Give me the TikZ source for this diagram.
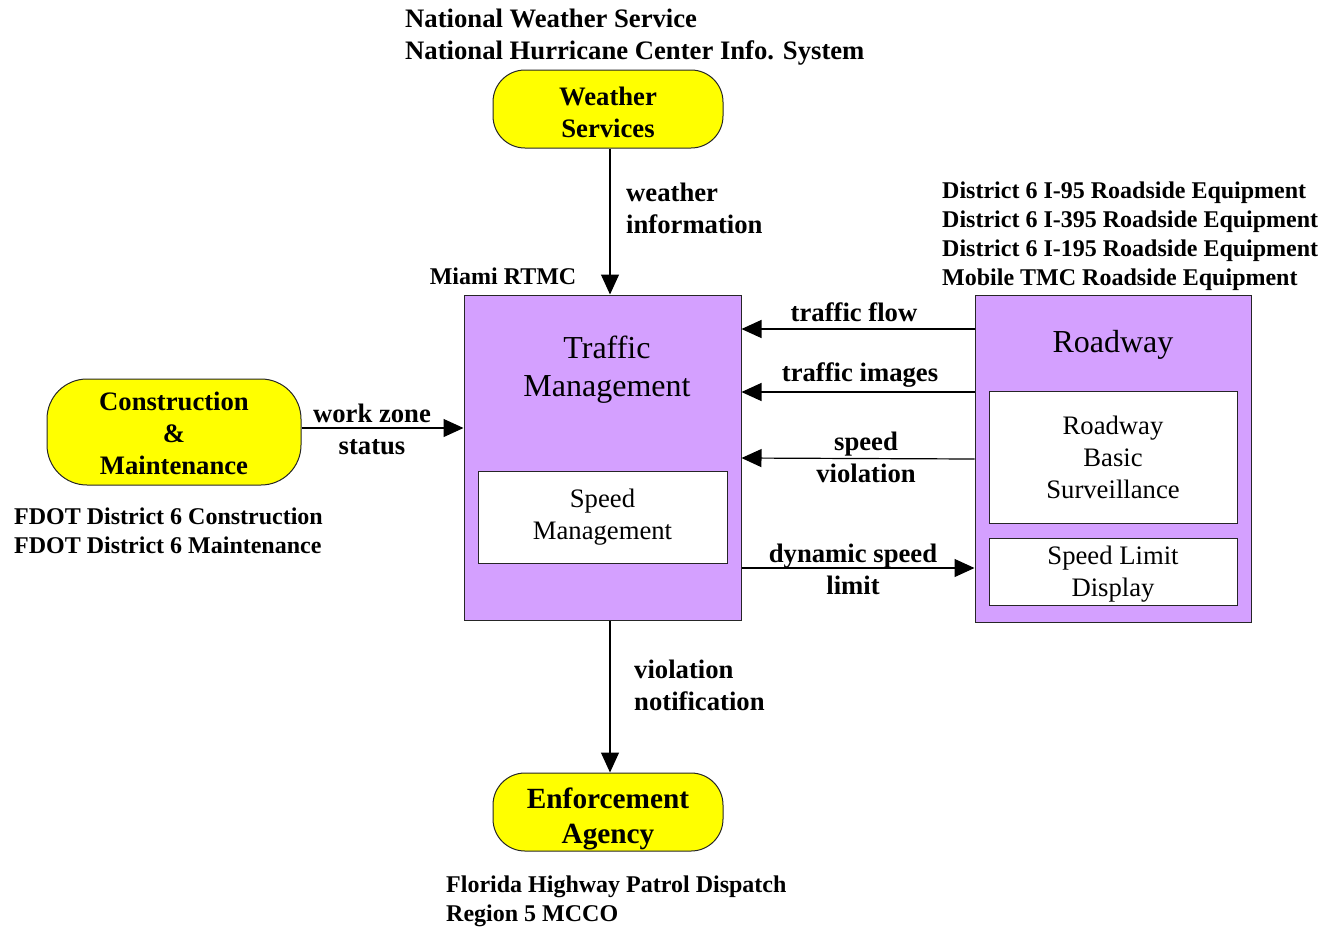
\documentclass[tikz,border=0pt]{standalone}
\usepackage{fontspec}
\setmainfont{Liberation Serif}
\usetikzlibrary{arrows.meta}
\definecolor{ylw}{RGB}{255,255,0}
\definecolor{prp}{RGB}{212,160,255}
\begin{document}
\begin{tikzpicture}[x=1pt,y=-1pt,
  ybox/.style={draw=black!85, fill=ylw, rounded corners=32pt, line width=1pt, inner sep=0pt},
  pbox/.style={draw=black!85, fill=prp, line width=1pt, inner sep=0pt},
  wbox/.style={draw=black!85, fill=white, line width=1pt, inner sep=0pt, align=center,
    font=\fontsize{26.67}{32}\selectfont},
  ytxt/.style={inner sep=0pt, align=center, font=\fontsize{26.67}{32}\selectfont\bfseries},
  title/.style={inner sep=0pt, align=center, font=\fontsize{32}{38}\selectfont},
  lbl/.style={inner sep=0pt, align=center, font=\fontsize{26.67}{32}\selectfont\bfseries},
  ext/.style={inner sep=0pt, align=left, font=\fontsize{24}{29}\selectfont\bfseries},
  arr/.style={line width=1.2pt, -{Triangle[length=20pt,width=18pt]}}
]
\useasboundingbox (0,0) rectangle (1324,927);

% external names
\node[ext, anchor=west, font=\fontsize{26.67}{32}\selectfont\bfseries] (nws) at (405,37) {National Weather Service\\National Hurricane Center Info. System};
\node[ext, anchor=west] (rse) at (942,236.5) {District 6 I-95 Roadside Equipment\\District 6 I-395 Roadside Equipment\\District 6 I-195 Roadside Equipment\\Mobile TMC Roadside Equipment};
\node[ext, anchor=west] (fdot) at (14,530.5) {FDOT District 6 Construction\\FDOT District 6 Maintenance};
\node[ext, anchor=west] (fhp) at (446,901.5) {Florida Highway Patrol Dispatch\\Region 5 MCCO};
\node[ext] (rtmc) at (503,276) {Miami RTMC};

% terminators
\node[ybox, minimum width=230pt, minimum height=78pt,
  label={[ytxt, yshift=-3pt]center:{Weather\\Services}}] (ws) at (608,109) {};
\node[ybox, minimum width=254pt, minimum height=106pt, rounded corners=40pt,
  label={[ytxt, yshift=-1pt]center:{Construction\\\&\\Maintenance}}] (cm) at (174,432) {};
\node[ybox, minimum width=230pt, minimum height=78pt,
  label={[ytxt, yshift=-7pt, font=\fontsize{29.3}{35}\selectfont\bfseries]center:{Enforcement\\Agency}}] (ea) at (608,812) {};

% Traffic Management
\node[pbox, minimum width=277pt, minimum height=325pt] (tm) at (602.5,457.5) {};
\node[title] (tmt) at (607,370) {Traffic\\Management};
\node[wbox, minimum width=249pt, minimum height=92pt] (sm) at (602.5,517) {Speed\\Management};

% Roadway
\node[pbox, minimum width=276pt, minimum height=327pt] (rw) at (1113,458.5) {};
\node[title] (rwt) at (1113,345) {Roadway};
\node[wbox, minimum width=248pt, minimum height=132pt] (rbs) at (1113,457) {Roadway\\Basic\\Surveillance};
\node[wbox, minimum width=248pt, minimum height=67pt,
  label={[inner sep=0pt, align=center, font=\fontsize{26.67}{32}\selectfont, yshift=-3pt]center:{Speed Limit\\Display}}] (sld) at (1113,571.5) {};

% flows
\draw[arr] (610,148) coordinate (a1) (a1 |- ws.south) -- (a1 |- tm.north);
\node[lbl, anchor=west, align=left] (l1) at (626,208) {weather\\information};

\draw[arr] (cm.east |- 0,428) -- (tm.west |- 0,428);
\node[lbl] (l2) at (372,429) {work zone\\status};

\draw[arr] (rw.west |- 0,329) -- (tm.east |- 0,329);
\node[lbl] (l3) at (854,312) {traffic flow};

\draw[arr] (rw.west |- 0,392) -- (tm.east |- 0,392);
\node[lbl] (l4) at (860,375) {traffic images};

\draw[arr] (rw.west |- 0,459) -- (tm.east |- 0,458);
\node[lbl] (l5) at (866,457) {speed\\violation};

\draw[arr] (tm.east |- 0,568) -- (rw.west |- 0,568);
\node[lbl] (l6) at (853,569) {dynamic speed\\limit};

\draw[arr] (a1 |- tm.south) -- (a1 |- ea.north);
\node[lbl, anchor=west, align=left] (l7) at (634,685) {violation\\notification};
\end{tikzpicture}
\end{document}
